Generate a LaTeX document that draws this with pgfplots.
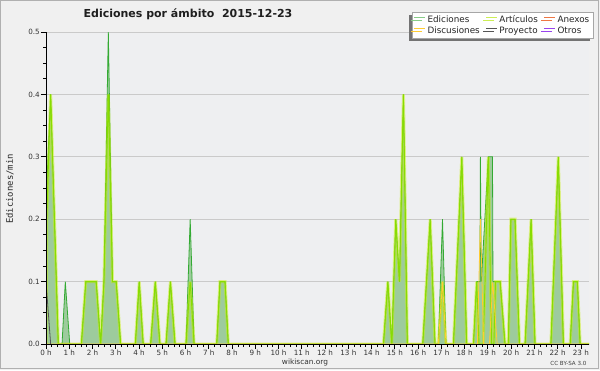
\documentclass[border=0pt]{standalone}
\usepackage{fontspec}
\setmainfont{DejaVu Sans}
\newfontfamily\monofont{DejaVu Sans Mono}
\usepackage{pgfplots}
\pgfplotsset{compat=1.18}
\usetikzlibrary{shadows}
\definecolor{bg}{HTML}{F0F0F0}
\definecolor{plotbg}{HTML}{EEEFF1}
\definecolor{gridc}{HTML}{CACACA}
\definecolor{borderc}{HTML}{B0B0B0}
\definecolor{edfill}{HTML}{9DCB9D}
\definecolor{edline}{HTML}{33AA33}
\definecolor{artglow}{HTML}{C8F000}
\definecolor{artline}{HTML}{88DD00}
\definecolor{legEd}{HTML}{88CC88}
\definecolor{legArt}{HTML}{CCEE55}
\definecolor{legAnx}{HTML}{EE7744}
\definecolor{legDis}{HTML}{FFCC33}
\definecolor{legPro}{HTML}{555555}
\definecolor{legOtr}{HTML}{9944EE}
\begin{document}
\begin{tikzpicture}[x=1pt,y=1pt]
\path[use as bounding box] (0,0) rectangle (600,370);
\fill[bg] (0,0) rectangle (600,370);
\draw[borderc, line width=1pt] (0.5,1.5) rectangle (598,369.5);
\node[font=\bfseries\fontsize{11}{13}\selectfont, text=black!88] at (188,356) {Ediciones por ámbito\ \ 2015-12-23};
\node[rotate=90, font=\monofont\fontsize{8.9}{10}\selectfont, text=black!85] at (10,181) {Ediciones/min};
\node[font=\fontsize{7.4}{8}\selectfont, text=black!80] at (305,8) {wikiscan.org};
\node[anchor=east, font=\fontsize{5.6}{6}\selectfont, text=black!75] at (590,6.5) {CC BY-SA 3.0};
\begin{axis}[
  at={(46pt,26pt)}, anchor=south west,
  width=543pt, height=312pt, scale only axis,
  xmin=0, xmax=23.35, ymin=0, ymax=0.5,
  axis lines*=left,
  axis line style={black, line width=0.8pt},
  axis background/.style={fill=plotbg},
  xtick={0,1,2,3,4,5,6,7,8,9,10,11,12,13,14,15,16,17,18,19,20,21,22,23},
  xticklabels={0 h,1 h,2 h,3 h,4 h,5 h,6 h,7 h,8 h,9 h,10 h,11 h,12 h,13 h,14 h,15 h,16 h,17 h,18 h,19 h,20 h,21 h,22 h,23 h},
  minor x tick num=3,
  ytick={0,0.1,0.2,0.3,0.4,0.5},
  minor y tick num=3,
  tick align=outside,
  major tick length=5pt, minor tick length=3pt,
  tick style={black, line width=0.7pt},
  ymajorgrids, grid style={draw=gridc, line width=0.8pt},
  ticklabel style={font=\fontsize{7.2}{8}\selectfont, text=black!80},
  /pgf/number format/assume math mode=true,
  yticklabel style={/pgf/number format/fixed, /pgf/number format/fixed zerofill, /pgf/number format/precision=1, inner sep=1pt},
  xticklabel style={inner sep=1pt},
  legend columns=3,
  legend cell align=left,
  legend style={at={(1.0074,1.064)}, anchor=north east, font=\fontsize{8.8}{9.6}\selectfont,
    draw=black!35, fill=white, inner sep=1.5pt, row sep=-1.5pt, text=black!85,
    drop shadow={shadow xshift=-3pt, shadow yshift=-3pt, fill=black!55, opacity=1},
    /tikz/every even column/.append style={column sep=4pt}},
  legend image code/.code={\draw[#1, line width=0.7pt] (0pt,2.6pt) -- (11pt,2.6pt);},
]
% Ediciones (fill)
\addplot[fill=edfill, draw=none, forget plot] coordinates {
(0,0.1)(0.03,0.25)(0.2,0.4)(0.53,0)
(0.69,0)(0.83,0.1)(1.02,0)
(1.52,0)(1.71,0.1)(2.16,0.1)(2.35,0)
(2.49,0.1)(2.68,0.5)(2.86,0.1)(3.02,0.1)(3.21,0)
(3.84,0)(4.01,0.1)(4.18,0)
(4.50,0)(4.70,0.1)(4.90,0)
(5.16,0)(5.35,0.1)(5.55,0)
(6.02,0)(6.20,0.2)(6.37,0)
(7.34,0)(7.48,0.1)(7.70,0.1)(7.84,0)
(14.51,0)(14.70,0.1)(14.87,0)
(15.04,0.2)(15.20,0.1)(15.37,0.4)(15.54,0)
(16.20,0)(16.52,0.2)(16.73,0)
(16.87,0)(17.05,0.2)(17.20,0)
(17.52,0)(17.88,0.3)(18.09,0)
(18.38,0)(18.52,0.1)(18.66,0.1)(18.68,0.3)(18.72,0.1)(19.02,0.3)(19.20,0.3)(19.22,0.1)(19.53,0.1)(19.74,0)
(19.88,0)(19.99,0.2)(20.17,0.2)(20.36,0)
(20.60,0)(20.86,0.2)(21.03,0)
(21.71,0)(22.03,0.3)(22.25,0)
(22.54,0)(22.68,0.1)(22.85,0.1)(22.97,0)(23.35,0)
} \closedcycle;
% Ediciones (line)
\addplot[edline, line width=0.8pt, forget plot] coordinates {
(0,0.1)(0.03,0.25)(0.2,0.4)(0.53,0)
(0.69,0)(0.83,0.1)(1.02,0)
(1.52,0)(1.71,0.1)(2.16,0.1)(2.35,0)
(2.49,0.1)(2.68,0.5)(2.86,0.1)(3.02,0.1)(3.21,0)
(3.84,0)(4.01,0.1)(4.18,0)
(4.50,0)(4.70,0.1)(4.90,0)
(5.16,0)(5.35,0.1)(5.55,0)
(6.02,0)(6.20,0.2)(6.37,0)
(7.34,0)(7.48,0.1)(7.70,0.1)(7.84,0)
(14.51,0)(14.70,0.1)(14.87,0)
(15.04,0.2)(15.20,0.1)(15.37,0.4)(15.54,0)
(16.20,0)(16.52,0.2)(16.73,0)
(16.87,0)(17.05,0.2)(17.20,0)
(17.52,0)(17.88,0.3)(18.09,0)
(18.38,0)(18.52,0.1)(18.66,0.1)(18.68,0.3)(18.72,0.1)(19.02,0.3)(19.20,0.3)(19.22,0.1)(19.53,0.1)(19.74,0)
(19.88,0)(19.99,0.2)(20.17,0.2)(20.36,0)
(20.60,0)(20.86,0.2)(21.03,0)
(21.71,0)(22.03,0.3)(22.25,0)
(22.54,0)(22.68,0.1)(22.85,0.1)(22.97,0)(23.35,0)
};
% Articulos glow + line
\addplot[artglow, opacity=0.45, line width=3pt, forget plot] coordinates {
(0,0)(0.03,0.2)(0.2,0.4)(0.53,0)
(1.52,0)(1.71,0.1)(2.16,0.1)(2.35,0)
(2.49,0.1)(2.68,0.4)(2.86,0.1)(3.02,0.1)(3.21,0)
(3.84,0)(4.01,0.1)(4.18,0)
(4.50,0)(4.70,0.1)(4.90,0)
(5.16,0)(5.35,0.1)(5.55,0)
(6.02,0)(6.20,0.1)(6.37,0)
(7.34,0)(7.48,0.1)(7.70,0.1)(7.84,0)
(14.51,0)(14.70,0.1)(14.87,0)
(15.04,0.2)(15.20,0.1)(15.37,0.4)(15.54,0)
(16.20,0)(16.52,0.2)(16.73,0)
(16.87,0)(17.05,0.1)(17.20,0)
(17.52,0)(17.88,0.3)(18.09,0)
(18.38,0)(18.52,0.1)(18.62,0)(18.80,0)(18.88,0.1)(19.02,0.3)(19.16,0)(19.26,0)(19.33,0.1)(19.53,0.1)(19.74,0)
(19.88,0)(19.99,0.2)(20.17,0.2)(20.36,0)
(20.60,0)(20.86,0.2)(21.03,0)
(21.71,0)(22.03,0.3)(22.25,0)
(22.54,0)(22.68,0.1)(22.85,0.1)(22.97,0)(23.35,0)
};
\addplot[artline, line width=0.9pt, forget plot] coordinates {
(0,0)(0.03,0.2)(0.2,0.4)(0.53,0)
(1.52,0)(1.71,0.1)(2.16,0.1)(2.35,0)
(2.49,0.1)(2.68,0.4)(2.86,0.1)(3.02,0.1)(3.21,0)
(3.84,0)(4.01,0.1)(4.18,0)
(4.50,0)(4.70,0.1)(4.90,0)
(5.16,0)(5.35,0.1)(5.55,0)
(6.02,0)(6.20,0.1)(6.37,0)
(7.34,0)(7.48,0.1)(7.70,0.1)(7.84,0)
(14.51,0)(14.70,0.1)(14.87,0)
(15.04,0.2)(15.20,0.1)(15.37,0.4)(15.54,0)
(16.20,0)(16.52,0.2)(16.73,0)
(16.87,0)(17.05,0.1)(17.20,0)
(17.52,0)(17.88,0.3)(18.09,0)
(18.38,0)(18.52,0.1)(18.62,0)(18.80,0)(18.88,0.1)(19.02,0.3)(19.16,0)(19.26,0)(19.33,0.1)(19.53,0.1)(19.74,0)
(19.88,0)(19.99,0.2)(20.17,0.2)(20.36,0)
(20.60,0)(20.86,0.2)(21.03,0)
(21.71,0)(22.03,0.3)(22.25,0)
(22.54,0)(22.68,0.1)(22.85,0.1)(22.97,0)(23.35,0)
};
% Discusiones
\addplot[legDis, line width=0.8pt, forget plot] coordinates {
(0,0)(16.87,0)(17.05,0.1)(17.20,0)(18.55,0)(18.68,0.2)(18.82,0)(19.07,0)(19.21,0.1)(19.40,0)(23.35,0)
};
% Proyecto
\addplot[legPro, line width=0.8pt, forget plot] coordinates {
(0,0.1)(0.2,0)
};
% axis lines on top of series
\draw[black, line width=0.8pt] (axis cs:0,0) -- (axis cs:23.35,0);
\draw[black, line width=0.8pt] (axis cs:0,0) -- (axis cs:0,0.5);
% legend
\addlegendimage{legEd}\addlegendentry{Ediciones}
\addlegendimage{legArt}\addlegendentry{Artículos}
\addlegendimage{legAnx}\addlegendentry{Anexos}
\addlegendimage{legDis}\addlegendentry{Discusiones}
\addlegendimage{legPro}\addlegendentry{Proyecto}
\addlegendimage{legOtr}\addlegendentry{Otros}
\end{axis}
\end{tikzpicture}
\end{document}
